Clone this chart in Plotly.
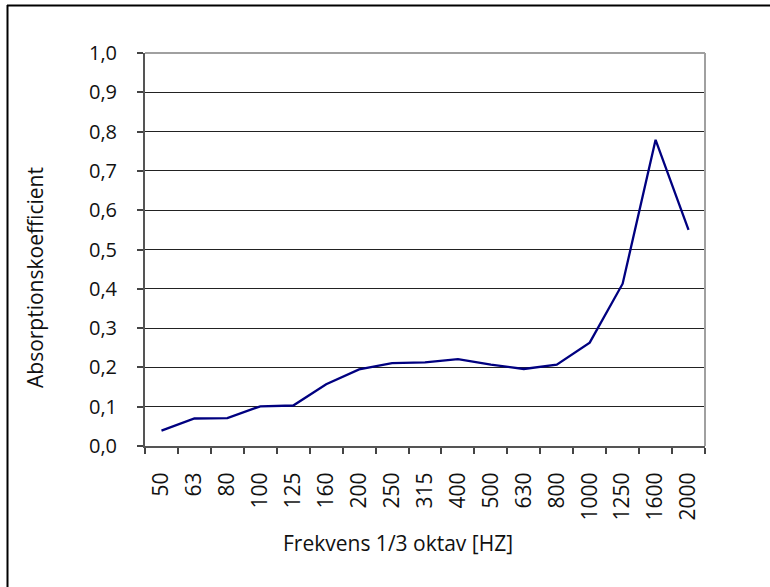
import plotly.graph_objects as go

frequencies = ["50", "63", "80", "100", "125", "160", "200", "250", "315", "400",
               "500", "630", "800", "1000", "1250", "1600", "2000"]
absorption = [0.039, 0.070, 0.071, 0.101, 0.103, 0.157, 0.195, 0.211, 0.213, 0.221,
              0.207, 0.196, 0.207, 0.263, 0.413, 0.779, 0.550]
x_title = "Frekvens 1/3 oktav [HZ]"
y_title = "Absorptionskoefficient"

FONT = "Open Sans"

fig = go.Figure()
fig.add_trace(go.Scatter(
    x=frequencies, y=absorption, mode="lines",
    line=dict(color="#000080", width=2.3),
    showlegend=False, hoverinfo="x+y",
))

L, R, T, B = 145, 65, 53, 141
W, H = 770, 587
pw, ph = W - L - R, H - T - B

def px(x):
    return (x - L) / pw

def py(y):
    return (H - B - y) / ph

fig.update_layout(
    width=W, height=H,
    margin=dict(l=L, r=R, t=T, b=B),
    paper_bgcolor="white", plot_bgcolor="white",
    separators=",.",
    font=dict(family=FONT, size=19, color="#111111"),
    xaxis=dict(
        type="category", range=[-0.5, len(frequencies) - 0.5],
        tickson="boundaries", ticks="outside", ticklen=6, tickwidth=1.5,
        tickcolor="#444444", tickangle=-90, ticklabelstandoff=16,
        showline=True, linecolor="#555555", linewidth=2,
        showgrid=False, zeroline=False,
        tickfont=dict(family=FONT, size=21, color="#111111"),
    ),
    yaxis=dict(
        range=[0, 1.0], dtick=0.1, tick0=0, tickformat=".1f",
        ticks="outside", ticklen=6, tickwidth=1.5, tickcolor="#444444",
        ticklabelstandoff=16,
        showline=True, linecolor="#555555", linewidth=2,
        showgrid=True, gridcolor="#222222", gridwidth=1,
        zeroline=False,
        tickfont=dict(family=FONT, size=20, color="#111111"),
    ),
    annotations=[
        dict(text=x_title, xref="paper", yref="paper", x=px(398), y=py(543),
             xanchor="center", yanchor="middle", showarrow=False,
             font=dict(family=FONT, size=21, color="#111111")),
        dict(text=y_title, xref="paper", yref="paper", x=px(35), y=py(278),
             xanchor="center", yanchor="middle", showarrow=False, textangle=-90,
             font=dict(family=FONT, size=21, color="#111111")),
    ],
    shapes=[
        dict(type="line", xref="paper", yref="paper", x0=0, x1=1, y0=1, y1=1,
             line=dict(color="#a0a0a0", width=2)),
        dict(type="line", xref="paper", yref="paper", x0=1, x1=1, y0=0, y1=1,
             line=dict(color="#a0a0a0", width=2)),
        dict(type="line", xref="paper", yref="paper",
             x0=px(7), x1=px(775), y0=py(5.5), y1=py(5.5),
             line=dict(color="black", width=2)),
        dict(type="line", xref="paper", yref="paper",
             x0=px(7.5), x1=px(7.5), y0=py(5), y1=py(595),
             line=dict(color="black", width=2)),
    ],
)

fig.write_html("out.html", config={"displayModeBar": False},
               post_script="document.body.style.margin='0';document.body.style.overflow='hidden';")
